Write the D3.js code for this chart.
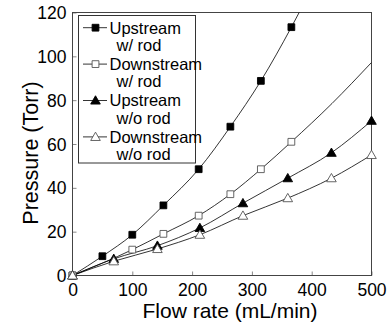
<!DOCTYPE html>
<html><head><meta charset="utf-8">
<script src="https://cdn.jsdelivr.net/npm/d3@7/dist/d3.min.js"></script>
<style>html,body{margin:0;padding:0;background:#fff}svg{display:block}</style>
</head><body>
<script>
// ---- data ----
const xTicks = [0, 100, 200, 300, 400, 500];
const yTicks = [0, 20, 40, 60, 80, 100, 120];

const flowUpRod   = [0, 50, 100, 152, 211, 264, 315, 366];
const presUpRod   = [0, 8.8, 18.6, 32, 48.5, 67.9, 88.8, 113.3];
const flowDownRod = [0, 100, 152, 211, 264, 315, 366];
const presDownRod = [0, 11.8, 19, 27.3, 37.1, 48.5, 61];
const flowNoRod   = [0, 69, 142, 213, 285, 360, 433, 500];
const presUpNoRod   = [0, 7.6, 13.6, 21.7, 33, 44.4, 56, 70.6];
const presDownNoRod = [0, 6.5, 12.1, 18.6, 27.3, 35.3, 44.4, 55];

// fitted-curve extensions beyond the last marker
const fitUpRodExt   = [[380, 120.5]];
const fitDownRodExt = [[434, 78.5], [500, 97.2]];

const seriesNames = [["Upstream", "w/ rod"], ["Downstream", "w/ rod"], ["Upstream", "w/o rod"], ["Downstream", "w/o rod"]];

const W = 387, H = 324;
const svg = d3.select("body").append("svg").attr("width", W).attr("height", H);
const x = d3.scaleLinear().domain([0, 500]).range([72.5, 371.5]);
const y = d3.scaleLinear().domain([0, 120]).range([275.5, 12.5]);

const font = "'Liberation Sans', Arial, Helvetica, sans-serif";

const zip = (a, b) => a.map((v, i) => [v, b[i]]);
const series = [
  {pts: zip(flowUpRod, presUpRod), ext: fitUpRodExt, shape: "square", filled: true},
  {pts: zip(flowDownRod, presDownRod), ext: fitDownRodExt, shape: "square", filled: false},
  {pts: zip(flowNoRod, presUpNoRod), ext: [], shape: "triangle", filled: true},
  {pts: zip(flowNoRod, presDownNoRod), ext: [], shape: "triangle", filled: false}
];

// clip
svg.append("defs").append("clipPath").attr("id", "clip")
  .append("rect").attr("x", x(0)).attr("y", y(120)).attr("width", x(500) - x(0)).attr("height", y(0) - y(120));

// axes (ticks inward)
const xAxis = d3.axisBottom(x).tickValues(xTicks).tickSizeInner(-4).tickSizeOuter(0).tickPadding(8);
const yAxis = d3.axisLeft(y).tickValues(yTicks).tickSizeInner(-4).tickSizeOuter(0).tickPadding(8);
const gx = svg.append("g").attr("transform", `translate(0,${y(0)})`).call(xAxis);
const gy = svg.append("g").attr("transform", `translate(${x(0)},0)`).call(yAxis);
[gx, gy].forEach(g => {
  g.select(".domain").remove();
  g.selectAll(".tick line").attr("stroke", "#888");
  g.selectAll(".tick text").attr("font-family", font).attr("font-size", 17.5).attr("fill", "#000");
});
gx.selectAll(".tick text").attr("dy", null).attr("y", 20);
gy.selectAll(".tick text").attr("x", -6).attr("dy", "0.35em");

// frame
svg.append("rect").attr("x", x(0)).attr("y", y(120)).attr("width", x(500) - x(0)).attr("height", y(0) - y(120))
  .attr("fill", "none").attr("stroke", "#444").attr("stroke-width", 1);

// curves
const line = d3.line().x(d => x(d[0])).y(d => y(d[1])).curve(d3.curveMonotoneX);
const plot = svg.append("g").attr("clip-path", "url(#clip)");
series.forEach(s => {
  plot.append("path").attr("d", line(s.pts.concat(s.ext)))
    .attr("fill", "none").attr("stroke", "#000").attr("stroke-width", 0.8);
});

const sym = {square: d3.symbolSquare, triangle: d3.symbolTriangle};
function marker(g, s, cx, cy) {
  const size = s.shape === "square" ? 46 : 40;
  g.append("path").attr("d", d3.symbol(sym[s.shape], size)())
    .attr("transform", `translate(${cx},${cy + (s.shape === "triangle" ? 0.8 : 0)})`)
    .attr("fill", s.filled ? "#000" : "#fff")
    .attr("stroke", s.filled ? "#000" : "#555").attr("stroke-width", 0.9);
}
const mg = svg.append("g");
series.forEach(s => s.pts.forEach(p => marker(mg, s, x(p[0]), y(p[1]))));

// legend
const lg = svg.append("g");
lg.append("rect").attr("x", 78.5).attr("y", 15.5).attr("width", 117).attr("height", 147.5)
  .attr("fill", "#fff").attr("stroke", "#333").attr("stroke-width", 1);
series.forEach((s, i) => {
  const cy = 27.7 + i * 36.4;
  lg.append("line").attr("x1", 83).attr("x2", 107).attr("y1", cy).attr("y2", cy)
    .attr("stroke", "#000").attr("stroke-width", 0.8);
  marker(lg, s, 95.5, cy);
  lg.append("text").attr("x", 109.5).attr("y", cy).attr("dy", "0.36em")
    .attr("font-family", font).attr("font-size", 16.5).text(seriesNames[i][0]);
  lg.append("text").attr("x", 116.5).attr("y", cy + 17.3).attr("dy", "0.36em")
    .attr("font-family", font).attr("font-size", 16.5).text(seriesNames[i][1]);
});

// axis titles
svg.append("text").attr("x", x(250) + 8).attr("y", 318).attr("text-anchor", "middle")
  .attr("font-family", font).attr("font-size", 21).text("Flow rate (mL/min)");
svg.append("text").attr("transform", "translate(37.5,153) rotate(-90)").attr("text-anchor", "middle")
  .attr("font-family", font).attr("font-size", 21.5).text("Pressure (Torr)");
</script>
</body></html>
